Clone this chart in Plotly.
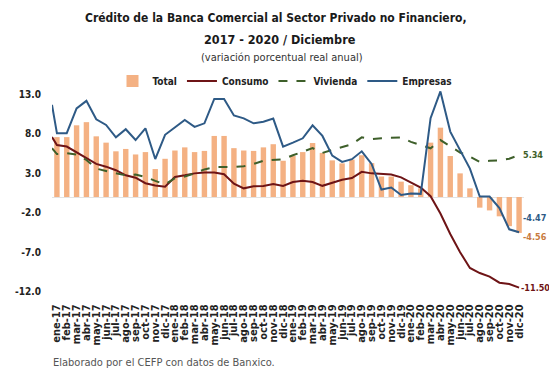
import plotly.graph_objects as go

# ---------------- data ----------------
months = ["ene-17", "feb-17", "mar-17", "abr-17", "may-17", "jun-17", "jul-17", "ago-17", "sep-17", "oct-17", "nov-17", "dic-17",
          "ene-18", "feb-18", "mar-18", "abr-18", "may-18", "jun-18", "jul-18", "ago-18", "sep-18", "oct-18", "nov-18", "dic-18",
          "ene-19", "feb-19", "mar-19", "abr-19", "may-19", "jun-19", "jul-19", "ago-19", "sep-19", "oct-19", "nov-19", "dic-19",
          "ene-20", "feb-20", "mar-20", "abr-20", "may-20", "jun-20", "jul-20", "ago-20", "sep-20", "oct-20", "nov-20", "dic-20"]

total = [7.6, 7.6, 9.1, 9.5, 7.7, 6.9, 5.8, 6.1, 5.4, 5.7, 3.55, 4.85,
         5.9, 6.3, 5.7, 5.85, 7.75, 7.75, 6.2, 5.9, 5.85, 6.3, 6.7, 4.6,
         5.2, 5.7, 6.85, 5.6, 4.65, 4.27, 4.75, 5.3, 4.3, 2.6, 2.6, 1.95,
         1.5, 1.1, 6.9, 8.8, 5.2, 3.0, 1.1, -1.35, -1.7, -2.45, -3.7, -4.56]

consumo = [6.6, 6.4, 5.65, 5.0, 4.2, 3.85, 3.4, 2.75, 2.45, 1.75, 1.45, 1.3,
           2.55, 2.75, 3.0, 3.1, 3.1, 2.9, 1.7, 1.1, 1.35, 1.4, 1.65, 1.4,
           1.9, 2.05, 1.9, 1.42, 1.86, 2.2, 2.4, 3.2, 3.0, 2.95, 2.85, 2.5,
           1.85, 1.2, 0.1, -2.1, -4.7, -7.0, -9.0, -9.65, -10.1, -10.87, -11.05, -11.50]

vivienda = [5.45, 5.55, 5.4, 4.7, 3.6, 3.3, 3.05, 2.75, 2.85, 2.55, 2.05, 1.6,
            2.4, 2.6, 3.0, 3.5, 3.8, 3.8, 3.8, 3.9, 4.2, 4.6, 4.7, 4.8,
            5.3, 5.75, 6.2, 5.6, 5.96, 6.39, 6.7, 7.57, 7.35, 7.45, 7.5, 7.57,
            7.0, 6.55, 6.18, 7.23, 6.39, 5.65, 5.12, 4.45, 4.6, 4.65, 4.85, 5.34]

empresas = [8.1, 8.1, 11.25, 12.2, 9.86, 9.14, 7.57, 8.6, 7.23, 8.72, 4.82, 7.9,
            8.8, 9.77, 8.9, 9.35, 12.44, 12.44, 10.35, 9.98, 9.35, 9.56, 9.95, 6.39,
            6.9, 7.45, 9.1, 7.75, 5.25, 4.45, 4.8, 5.8, 4.2, 0.95, 1.2, 0.25,
            0.46, 0.4, 10.0, 13.4, 8.3, 6.0, 3.6, 0.05, 0.05, -1.4, -4.1, -4.47]

# value of each line at the left edge of the plot (previous month, dic-16)
lead_consumo = 7.6
lead_vivienda = 6.2
lead_empresas = 11.7

y_ticks = [13.0, 8.0, 3.0, -2.0, -7.0, -12.0]

# ---------------- styles ----------------
C_TOTAL = "#F4B183"
C_CONS = "#6E1416"
C_VIV = "#3E5F2A"
C_EMP = "#2E5A86"
FONT = "Liberation Sans Narrow, DejaVu Sans Condensed, Arial Narrow, Roboto, sans-serif"

x_idx = list(range(len(months)))
x_range = [-0.5, len(months) - 0.5]
x_line = [x_range[0]] + x_idx

fig = go.Figure()
fig.add_trace(go.Bar(x=x_idx, y=total, name="Total", marker=dict(color=C_TOTAL, line=dict(width=0))))
fig.add_trace(go.Scatter(x=x_line, y=[lead_consumo] + consumo, name="Consumo", mode="lines",
                         line=dict(color=C_CONS, width=2)))
fig.add_trace(go.Scatter(x=x_line, y=[lead_vivienda] + vivienda, name="Vivienda", mode="lines",
                         line=dict(color=C_VIV, width=2, dash="dash")))
fig.add_trace(go.Scatter(x=x_line, y=[lead_empresas] + empresas, name="Empresas", mode="lines",
                         line=dict(color=C_EMP, width=2)))

end_labels = [
    (vivienda[-1], C_VIV, -3, 0),
    (empresas[-1], C_EMP, -3, 14),
    (total[-1], "#C87A3E", -3, -4),
    (consumo[-1], C_CONS, -5, 0),
]
annotations = []
for val, col, xs, ys in end_labels:
    annotations.append(dict(x=1.0, y=val, xref="paper", yref="y", text=f"<b>{val:.2f}</b>", showarrow=False,
                            xanchor="left", yanchor="middle", xshift=xs, yshift=ys,
                            font=dict(family=FONT, size=9, color=col)))

W, H = 549, 374
plot_left, plot_right = 52, 524
plot_top, plot_bottom = 87, 293
ph = plot_bottom - plot_top


def py(pix):
    return (plot_bottom - pix) / ph


def px(pix):
    return (pix - plot_left) / (plot_right - plot_left)


annotations += [
    dict(x=px(276), y=py(18), xref="paper", yref="paper", showarrow=False, xanchor="center", yanchor="middle",
         text="<b>Crédito de la Banca Comercial al Sector Privado no Financiero,</b>",
         font=dict(family=FONT, size=12, color="#1a1a1a")),
    dict(x=px(280), y=py(39), xref="paper", yref="paper", showarrow=False, xanchor="center", yanchor="middle",
         text="<b>2017 - 2020 / Diciembre</b>", font=dict(family=FONT, size=12.5, color="#1a1a1a")),
    dict(x=px(282), y=py(57), xref="paper", yref="paper", showarrow=False, xanchor="center", yanchor="middle",
         text="(variación porcentual real anual)", font=dict(family=FONT, size=11, color="#333333")),
    dict(x=px(51), y=py(362), xref="paper", yref="paper", showarrow=False, xanchor="left", yanchor="middle",
         text="Elaborado por el CEFP con datos de Banxico.", font=dict(family=FONT, size=11, color="#555555")),
]

fig.update_layout(
    width=W, height=H,
    margin=dict(l=plot_left, r=W - plot_right, t=plot_top, b=H - plot_bottom, pad=0, autoexpand=False),
    paper_bgcolor="white", plot_bgcolor="white",
    bargap=0.45,
    hovermode=False,
    font=dict(family=FONT, color="#222222"),
    showlegend=True,
    legend=dict(orientation="h", x=px(285), y=py(81), xanchor="center", yanchor="middle",
                font=dict(family=FONT, size=10, color="#222222", weight="bold"),
                itemwidth=30, tracegroupgap=0, bgcolor="rgba(0,0,0,0)"),
    annotations=annotations,
    xaxis=dict(range=x_range, tickmode="array", tickvals=x_idx, ticktext=months, tickangle=-90,
               tickfont=dict(family=FONT, size=11, color="#222222", weight="bold"),
               showgrid=False, zeroline=False, showline=False, ticks="outside", ticklen=6,
               tickcolor="rgba(0,0,0,0)", fixedrange=True, automargin=False),
    yaxis=dict(range=[-12.18, 13.96], tickmode="array", tickvals=y_ticks,
               ticktext=[f"{v:.1f}" for v in y_ticks],
               tickfont=dict(family=FONT, size=10, color="#222222", weight="bold"),
               showgrid=False, zeroline=True, zerolinecolor="#e3e3e3", zerolinewidth=1,
               showline=False, ticks="outside", ticklen=8, tickcolor="rgba(0,0,0,0)", fixedrange=True,
               automargin=False),
)

# remove the browser's default 8px page margin so the figure sits at the window's top-left corner
fig.write_html("out.html", config={"displayModeBar": False, "staticPlot": True},
               post_script="document.body.style.margin='0px';document.body.style.overflow='hidden';")
